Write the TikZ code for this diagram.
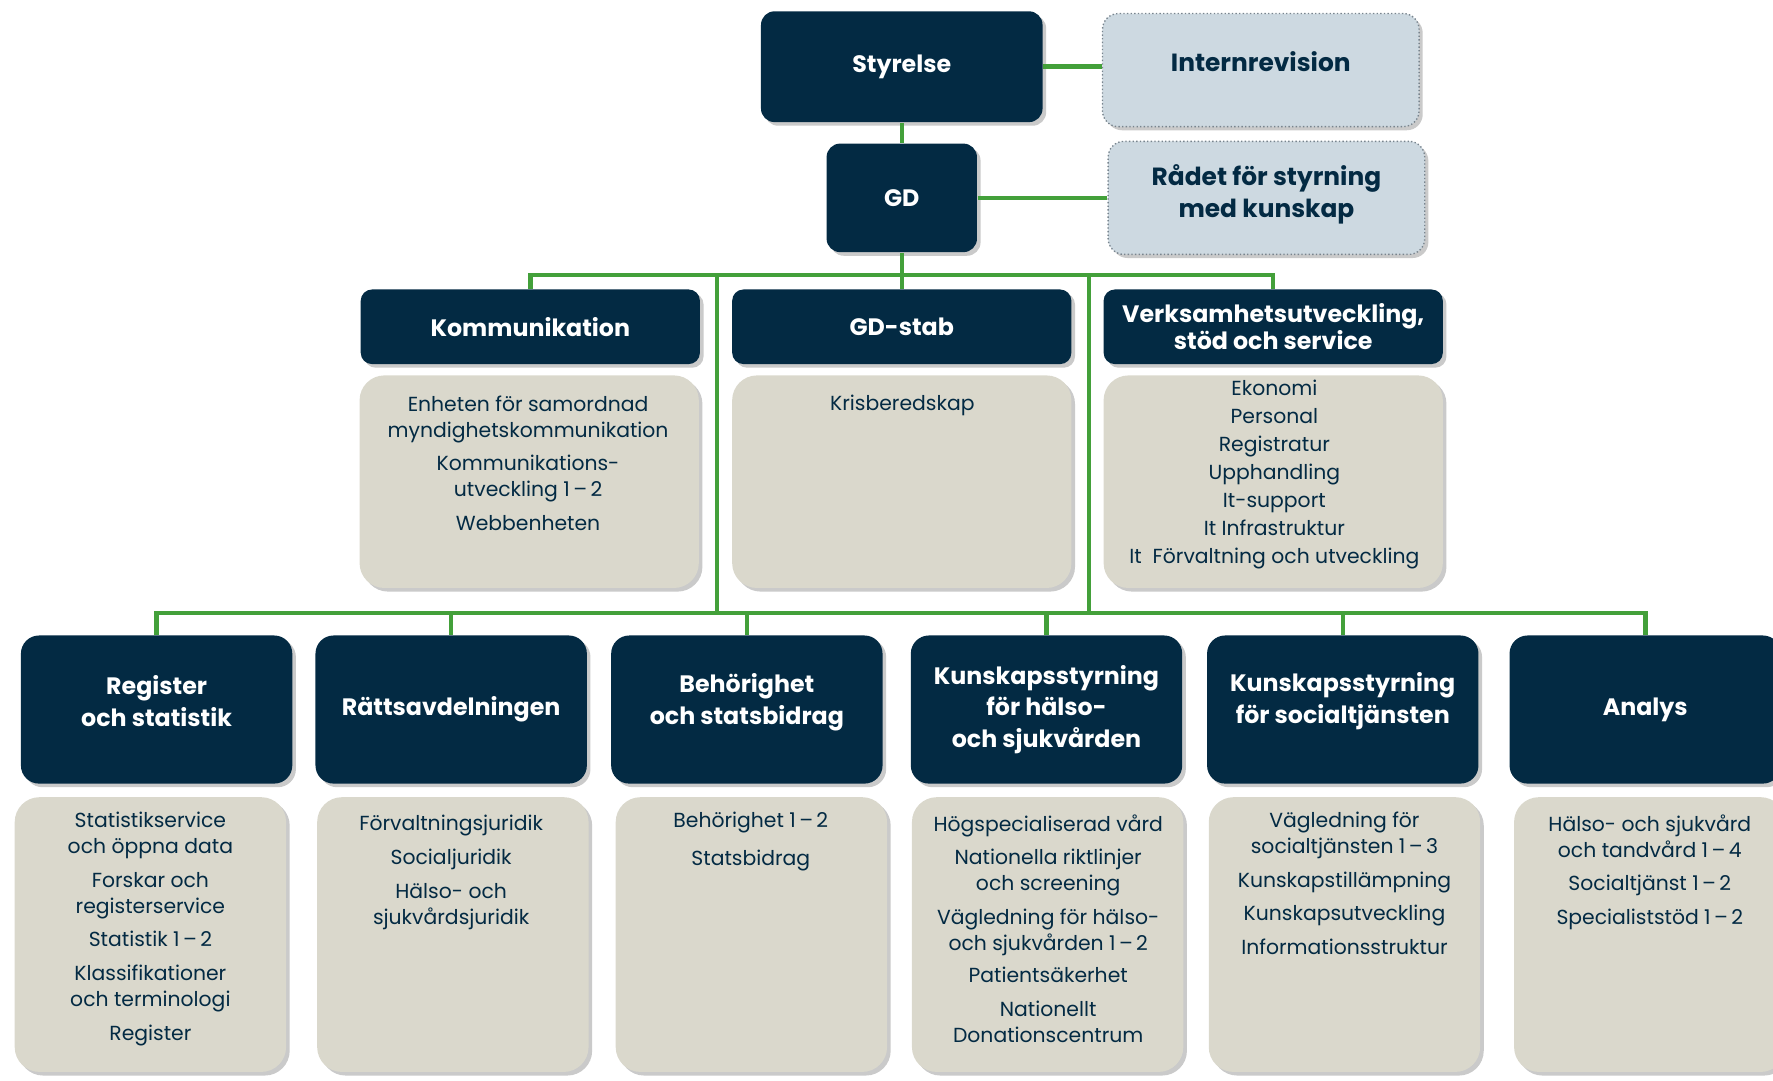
\documentclass[tikz,border=0pt]{standalone}
\usepackage{fontspec}
\setmainfont{Poppins}
\usetikzlibrary{shadows}

\definecolor{orgnavy}{RGB}{3,42,67}
\definecolor{orggreen}{RGB}{67,160,58}
\definecolor{orgsand}{RGB}{218,216,204}
\definecolor{orgmist}{RGB}{205,217,225}
\definecolor{orgdots}{RGB}{120,132,142}

\tikzset{every picture/.style={line width=0.75pt}}
\tikzset{
  boxshadow/.style={drop shadow={shadow xshift=1.6pt,shadow yshift=-1.6pt,opacity=0.35,fill=black!60}},
  topbox/.style={rounded corners=6pt, fill=orgnavy, draw=none, text=white, inner sep=2pt,
    font=\bfseries\fontsize{10.5}{13}\selectfont, align=center, boxshadow},
  headbox/.style={topbox, rounded corners=5pt, font=\bfseries\fontsize{10.5}{12}\selectfont},
  deptbox/.style={topbox, rounded corners=8pt, font=\bfseries\fontsize{10.5}{14}\selectfont},
  advbox/.style={rounded corners=7pt, fill=orgmist, draw=orgdots, densely dotted, line width=0.6pt,
    text=orgnavy, font=\bfseries\fontsize{11}{14}\selectfont, align=center, boxshadow},
  unitbox/.style={rounded corners=11pt, fill=orgsand, draw=none, boxshadow},
  unittext/.style={anchor=north, inner sep=0pt, text=orgnavy, font=\fontsize{9}{11.5}\selectfont, align=center},
  wire/.style={draw=orggreen, line width=2pt},
}

\begin{document}
\begin{tikzpicture}[x=0.5pt,y=0.5pt,yscale=-1,xscale=1]
\useasboundingbox (0,0) rectangle (1568,956);

%Shape: Rounded Rectangle [top]
\node[topbox, minimum width=124.5pt, minimum height=49pt] (styrelse) at (797.5,59) {Styrelse};
\node[advbox, minimum width=140pt, minimum height=50pt, text depth=8pt] (internrevision) at (1115,62) {Internrevision};
\node[topbox, minimum width=66.5pt, minimum height=48pt] (gd) at (797.5,175) {GD};
\node[advbox, minimum width=140pt, minimum height=50pt, text depth=6pt] (radet) at (1120,175) {Rådet för styrning\\med kunskap};

%Shape: Rounded Rectangle [staff row]
\node[headbox, minimum width=150pt, minimum height=33pt] (kommunikation) at (469,289) {Kommunikation};
\node[headbox, minimum width=150pt, minimum height=33pt] (gdstab) at (797.5,289) {GD-stab};
\node[headbox, minimum width=150pt, minimum height=33pt] (verksamhet) at (1126,289) {Verksamhetsutveckling,\\stöd och service};

\node[unitbox, minimum width=150pt, minimum height=94pt] (kombody) at (468,426) {};
\node[unitbox, minimum width=150pt, minimum height=94pt] (stabbody) at (797.5,426) {};
\node[unitbox, minimum width=150pt, minimum height=94pt] (verkbody) at (1126,426) {};

\node[unittext] (komtext) at (467,349) {Enheten för samordnad\\myndighetskommunikation\\[3.5pt]Kommunikations-\\utveckling 1\,–\,2\\[3.5pt]Webbenheten};
\node[unittext] (stabtext) at (798,349) {Krisberedskap};
\node[unittext] (verktext) at (1127,335) {Ekonomi\\[0.9pt]Personal\\[0.9pt]Registratur\\[0.9pt]Upphandling\\[0.9pt]It-support\\[0.9pt]It Infrastruktur\\[0.9pt]It~ Förvaltning och utveckling};

%Shape: Rounded Rectangle [department row]
\node[deptbox, minimum width=120pt, minimum height=65.5pt, text depth=7.5pt] (register) at (138.5,627.5) {Register\\och statistik};
\node[deptbox, minimum width=120pt, minimum height=65.5pt] (ratts) at (399,627.5) {Rättsavdelningen};
\node[deptbox, minimum width=120pt, minimum height=65.5pt, text depth=9.5pt] (behorighet) at (660.5,627.5) {Behörighet\\och statsbidrag};
\node[deptbox, minimum width=120pt, minimum height=65.5pt] (halso) at (925.5,627.5) {Kunskapsstyrning\\för hälso-\\och sjukvården};
\node[deptbox, minimum width=120pt, minimum height=65.5pt, text depth=10pt] (social) at (1187.5,627.5) {Kunskapsstyrning\\för socialtjänsten};
\node[deptbox, minimum width=120pt, minimum height=65.5pt] (analys) at (1455,627.5) {Analys};

\node[unitbox, minimum width=120pt, minimum height=121.5pt] (regbody) at (133,826.5) {};
\node[unitbox, minimum width=120pt, minimum height=121.5pt] (rattbody) at (400.5,826.5) {};
\node[unitbox, minimum width=120pt, minimum height=121.5pt] (behbody) at (664.5,826.5) {};
\node[unitbox, minimum width=120pt, minimum height=121.5pt] (halbody) at (926.5,826.5) {};
\node[unitbox, minimum width=120pt, minimum height=121.5pt] (socbody) at (1189,826.5) {};
\node[unitbox, minimum width=120pt, minimum height=121.5pt] (anabody) at (1459,826.5) {};

\node[unittext] (regtext) at (133,717) {Statistikservice\\och öppna data\\[3.5pt]Forskar och\\registerservice\\[3.5pt]Statistik 1\,–\,2\\[3.5pt]Klassifikationer\\och terminologi\\[3.5pt]Register};
\node[unittext] (rattext) at (399,720) {Förvaltningsjuridik\\[3.5pt]Socialjuridik\\[3.5pt]Hälso- och\\sjukvårdsjuridik};
\node[unittext] (behtext) at (664,717) {Behörighet 1\,–\,2\\[5.5pt]Statsbidrag};
\node[unittext] (haltext) at (927,719.5) {Högspecialiserad vård\\[3.5pt]Nationella riktlinjer\\och screening\\[3.5pt]Vägledning för hälso-\\och sjukvården 1\,–\,2\\[2.5pt]Patientsäkerhet\\[3.5pt]Nationellt\\Donationscentrum};
\node[unittext] (soctext) at (1189,717) {Vägledning för\\socialtjänsten 1\,–\,3\\[3.5pt]Kunskapstillämpning\\[3.5pt]Kunskapsutveckling\\[3.5pt]Informationsstruktur};
\node[unittext] (anatext) at (1459,719.5) {Hälso- och sjukvård\\och tandvård 1\,–\,4\\[3.5pt]Socialtjänst 1\,–\,2\\[3.5pt]Specialiststöd 1\,–\,2};

%Straight Lines [connectors]
\coordinate (upbus) at (797.5,243);
\coordinate (leftdrop) at (634,243);
\coordinate (rightdrop) at (963,243);
\coordinate (lowbus) at (634,542);
\draw[wire] (styrelse.east) -- (internrevision.west |- styrelse.east);
\draw[wire] (gd.east) -- (radet.west);
\draw[wire] (styrelse.south) -- (gd.north);
\draw[wire] (gd.south) -- (upbus);
\draw[wire] (kommunikation.north) |- (upbus) -| (verksamhet.north);
\draw[wire] (upbus) -- (gdstab.north);
\draw[wire] (leftdrop) -- (leftdrop |- lowbus);
\draw[wire] (rightdrop) -- (rightdrop |- lowbus);
\draw[wire] (register.north) |- (lowbus) -| (analys.north);
\draw[wire] (ratts.north) -- (ratts.north |- lowbus);
\draw[wire] (behorighet.north) -- (behorighet.north |- lowbus);
\draw[wire] (halso.north) -- (halso.north |- lowbus);
\draw[wire] (social.north) -- (social.north |- lowbus);
\end{tikzpicture}
\end{document}
